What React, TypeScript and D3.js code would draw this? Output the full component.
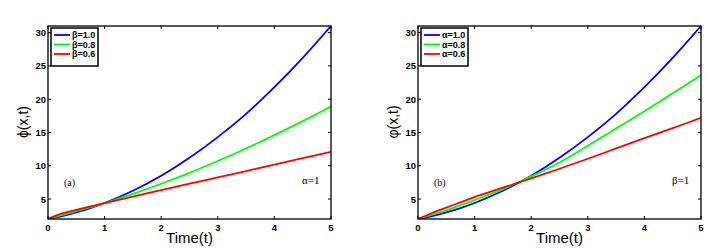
import React, { useRef, useEffect } from 'react';
import * as d3 from 'd3';

// pontos de tempo
const time = [0, 0.25, 0.5, 0.75, 1, 1.5, 2, 2.5, 3, 3.5, 4, 4.5, 5];

// painel (a): alpha = 1
const betaOne = [2, 2.44, 2.99, 3.64, 4.4, 6.24, 8.5, 11.2, 14.3, 17.8, 21.8, 26.2, 31.0];
const betaPointEight = [2, 2.6, 3.17, 3.77, 4.4, 5.78, 7.3, 8.94, 10.72, 12.6, 14.6, 16.7, 18.9];
const betaPointSix = [2, 2.83, 3.38, 3.9, 4.4, 5.37, 6.33, 7.3, 8.24, 9.2, 10.16, 11.13, 12.1];

// painel (b): beta = 1
const alphaOne = [2, 2.44, 2.99, 3.64, 4.4, 6.24, 8.5, 11.2, 14.3, 17.8, 21.8, 26.2, 31.0];
const alphaPointEight = [2, 2.65, 3.3, 4.05, 4.85, 6.5, 8.4, 10.5, 13.0, 15.6, 18.2, 20.9, 23.6];
const alphaPointSix = [2, 2.9, 3.7, 4.5, 5.3, 6.7, 8.1, 9.55, 11.05, 12.6, 14.15, 15.65, 17.2];

const labelsA = ['\u03B2=1.0', '\u03B2=0.8', '\u03B2=0.6'];
const labelsB = ['\u03B1=1.0', '\u03B1=0.8', '\u03B1=0.6'];
const colors = ['#0000ff', '#00ff00', '#ff0000'];
const xTicks = [0, 1, 2, 3, 4, 5];
const yTicks = [5, 10, 15, 20, 25, 30];

const panels = [
    { left: 48, series: [betaOne, betaPointEight, betaPointSix], labels: labelsA, tag: '(a)', note: '\u03B1=1', ylabel: '\u03D5(x,t)' },
    { left: 418, series: [alphaOne, alphaPointEight, alphaPointSix], labels: labelsB, tag: '(b)', note: '\u03B2=1', ylabel: '\u03C6(x,t)' },
];

const Chart = () => {
    const svgRef = useRef(null)
    useEffect(() => {
        const svg = d3.select(svgRef.current)
        svg.selectAll('*').remove()
        const w = 283, top = 26, bottom = 219
        const sans = 'Liberation Sans, Arial, sans-serif'
        const serif = 'Liberation Serif, Times New Roman, serif'

        panels.forEach(p => {
            const x = d3.scaleLinear().domain([0, 5]).range([p.left, p.left + w])
            const y = d3.scaleLinear().domain([2, 31]).range([bottom, top])
            const g = svg.append('g')

            const clipId = 'clip' + p.left
            g.append('clipPath').attr('id', clipId)
                .append('rect').attr('x', p.left).attr('y', top).attr('width', w).attr('height', bottom - top)

            // curvas
            const line = d3.line<number>()
                .x((d, i) => x(time[i]))
                .y(d => y(d))
                .curve(d3.curveCatmullRom)
            p.series.forEach((s, i) => {
                g.append('path')
                    .attr('d', line(s))
                    .attr('fill', 'none')
                    .attr('stroke', colors[i])
                    .attr('stroke-width', 1.8)
                    .attr('clip-path', `url(#${clipId})`)
            })

            // caixa dos eixos
            g.append('rect')
                .attr('x', p.left).attr('y', top).attr('width', w).attr('height', bottom - top)
                .attr('fill', 'none').attr('stroke', '#000').attr('stroke-width', 1.3)

            // ticks para dentro (estilo matlab)
            xTicks.forEach(t => {
                g.append('line').attr('x1', x(t)).attr('x2', x(t)).attr('y1', bottom).attr('y2', bottom - 3).attr('stroke', '#000')
                g.append('line').attr('x1', x(t)).attr('x2', x(t)).attr('y1', top).attr('y2', top + 3).attr('stroke', '#000')
                g.append('text').attr('x', x(t)).attr('y', 231).attr('text-anchor', 'middle')
                    .attr('font-family', sans).attr('font-size', 9.5).attr('font-weight', 'bold').text(t)
            })
            yTicks.forEach(t => {
                g.append('line').attr('x1', p.left).attr('x2', p.left + 3).attr('y1', y(t)).attr('y2', y(t)).attr('stroke', '#000')
                g.append('line').attr('x1', p.left + w).attr('x2', p.left + w - 3).attr('y1', y(t)).attr('y2', y(t)).attr('stroke', '#000')
                g.append('text').attr('x', p.left - 2).attr('y', y(t) + 3.5).attr('text-anchor', 'end')
                    .attr('font-family', sans).attr('font-size', 9.5).attr('font-weight', 'bold').text(t)
            })

            // rótulos dos eixos
            g.append('text').attr('x', p.left + w / 2).attr('y', 243).attr('text-anchor', 'middle')
                .attr('font-family', sans).attr('font-size', 15).text('Time(t)')
            g.append('text').attr('transform', `translate(${p.left - 20},122) rotate(-90)`).attr('text-anchor', 'middle')
                .attr('font-family', sans).attr('font-size', 14).text(p.ylabel)

            // anotações
            g.append('text').attr('x', p.left + 16).attr('y', 186)
                .attr('font-family', serif).attr('font-size', 10).text(p.tag)
            g.append('text').attr('x', p.left + w - 29).attr('y', 184)
                .attr('font-family', serif).attr('font-size', 11).text(p.note)

            // legenda
            const lx = p.left + 3, ly = 28
            g.append('rect').attr('x', lx).attr('y', ly).attr('width', 47).attr('height', 38)
                .attr('fill', '#fff').attr('stroke', '#000').attr('stroke-width', 1.5)
            p.labels.forEach((lab, i) => {
                const yy = ly + 7 + i * 9.5
                g.append('line').attr('x1', lx + 3).attr('x2', lx + 19).attr('y1', yy).attr('y2', yy)
                    .attr('stroke', colors[i]).attr('stroke-width', 1.8)
                g.append('text').attr('x', lx + 21).attr('y', yy + 3.3)
                    .attr('font-family', sans).attr('font-size', 9).attr('font-weight', 'bold').text(lab)
            })
        })
    }, [])

    return <svg ref={svgRef} width={726} height={248}
        style={{ position: 'absolute', left: 0, top: 0, background: '#fff' }} />
};

export default function App() {
    return <Chart />
}
